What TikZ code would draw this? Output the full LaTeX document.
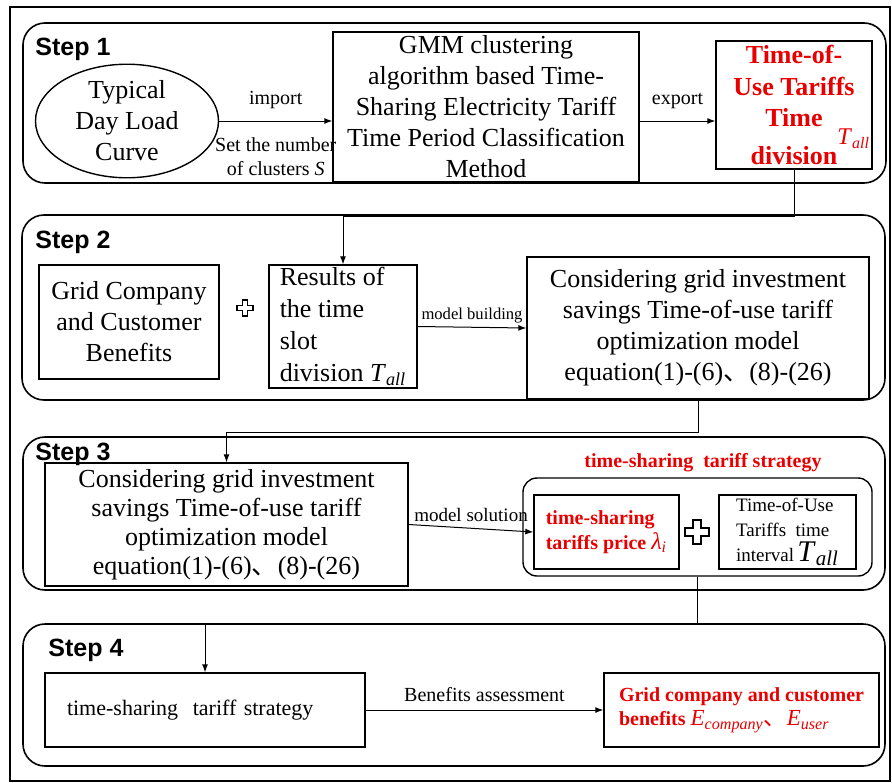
\documentclass[tikz,border=0pt]{standalone}
\usepackage{fontspec}
\setmainfont{Liberation Serif}
\newfontfamily\stepfont{Liberation Sans}
\newfontfamily\cjk{Noto Sans CJK SC}
\usepackage{tikz}
\usetikzlibrary{shapes.geometric,arrows.meta}
\definecolor{tred}{RGB}{232,0,0}
\newcommand{\fs}[2]{\fontsize{#1}{#2}\selectfont}
\newcommand{\isub}[2]{\textit{#1}\textsubscript{\textit{#2}}}
\newcommand{\plusmark}[3]{\draw[line width=0.7pt, shift={#1}] (-#3,-#2) -- (#3,-#2) -- (#3,-#3) -- (#2,-#3) -- (#2,#3) -- (#3,#3) -- (#3,#2) -- (-#3,#2) -- (-#3,#3) -- (-#2,#3) -- (-#2,-#3) -- (-#3,-#3) -- cycle;}
\tikzset{
  box/.style={draw, line width=0.7pt, inner sep=0pt, align=center, font=\fs{13}{15.5}},
  stepframe/.style={draw, line width=0.8pt, rounded corners=11pt, inner sep=0pt},
  steplabel/.style={anchor=base west, inner sep=0pt, font=\stepfont\bfseries\fs{12.5}{15}},
  arr/.style={-{Latex[length=4pt,width=3pt]}, line width=0.5pt},
  lbl/.style={inner sep=1pt, font=\fs{10}{12}}
}

\begin{document}
\begin{tikzpicture}[x=0.5pt, y=-0.5pt]
\useasboundingbox (0,0) rectangle (892,782);
\draw[line width=0.9pt] (10,7) rectangle (890,781);

\node[stepframe, minimum width=431.5pt, minimum height=80pt] (stepA) at (454.5,103) {};
\node[stepframe, minimum width=431.5pt, minimum height=92.5pt] (stepB) at (453.5,307.5) {};
\node[stepframe, minimum width=431pt, minimum height=76.5pt] (stepC) at (454,513.5) {};
\node[stepframe, minimum width=431pt, minimum height=71pt] (stepD) at (454,695) {};
\node[steplabel] (labA) at (35,55) {Step 1};
\node[steplabel] (labB) at (35,248) {Step 2};
\node[steplabel] (labC) at (35,460) {Step 3};
\node[steplabel] (labD) at (48,656) {Step 4};

\node[draw, ellipse, line width=0.7pt, inner sep=0pt, minimum width=91.5pt, minimum height=52.5pt, align=center, font=\fs{13}{15.5}] (load) at (127,121) {\raisebox{-3pt}{Typical}\\\raisebox{-3pt}{Day Load}\\\raisebox{-3pt}{Curve}};
\node[box, minimum width=153pt, minimum height=75pt] (gmm) at (486,107) {GMM clustering\\algorithm based Time-\\Sharing Electricity Tariff\\Time Period Classification\\Method};
\node[box, text=tred, font=\bfseries\fs{13}{15.8}, minimum width=78pt, minimum height=64pt] (tou) at (794,105) {Time-of-\\Use Tariffs\\Time\\division\rlap{\mdseries\raisebox{10pt}{\fs{12}{14}\isub{T}{all}}}};
\draw[arr] (load.east) -- (load.east -| gmm.west) node[midway, above=5pt, lbl] {import} node[midway, below=7pt, lbl, align=center, font=\fs{10}{12}] {Set the number\\of clusters \textit{S}};
\draw[arr] ([yshift=-7pt]gmm.east) -- ([yshift=-7pt]gmm.east -| tou.west) node[midway, above=5pt, lbl] {export};

\node[box, minimum width=90pt, minimum height=57pt] (grid) at (129,322) {Grid Company\\and Customer\\Benefits};
\plusmark{(245,308)}{8}{2.7}
\node[box, align=left, font=\fs{13}{16}, minimum width=74pt, minimum height=61.5pt] (results) at (343,326.5) {Results of\\the time\\slot\\division \isub{T}{all}};
\node[box, minimum width=171pt, minimum height=71pt] (cons2) at (698,328) {Considering grid investment\\savings Time-of-use tariff\\optimization model\\equation(1)-(6){\cjk 、}(8)-(26)};
\draw[arr] (tou.south) -- ++(0,47) -| (results.north);
\draw[arr] (results.east) -- (cons2.west) node[midway, above=1pt, lbl, font=\fs{8.3}{10}] {model building};

\node[box, font=\fs{13}{14.5}, minimum width=181.5pt, minimum height=61.5pt] (cons3) at (226.5,524.5) {Considering grid investment\\savings Time-of-use tariff\\optimization model\\equation(1)-(6){\cjk 、}(8)-(26)};
\node[anchor=base, inner sep=0pt, text=tred, font=\bfseries\fs{10}{12}] (stratlbl) at (703,467) {time-sharing\ \ tariff strategy};
\node[draw, line width=0.7pt, rounded corners=7pt, inner sep=0pt, minimum width=174.5pt, minimum height=49pt] (strat) at (697.5,527) {};
\node[box, align=left, text=tred, font=\bfseries\fs{10}{12.5}, minimum width=72.5pt, minimum height=37pt] (price) at (606.5,532) {time-sharing\\tariffs price {\mdseries\fs{12}{12}\isub{λ}{i}}};
\plusmark{(697,532)}{12}{4}
\node[box, align=left, font=\fs{9.5}{12.5}, minimum width=68.5pt, minimum height=37pt] (tint) at (787.5,532) {Time-of-Use\\Tariffs\ \ time\\interval\,{\fs{15}{15}\isub{T}{all}}};
\draw[arr] (cons2.south) -- ++(0,33) -| (cons3.north);
\draw[arr] (cons3.east) -- (price.west) node[midway, above=2pt, lbl, font=\fs{9.5}{11}] {model solution};

\node[box, align=left, text width=138pt, inner xsep=11pt, font=\fs{11}{13}, minimum height=37pt] (tstrat) at (205,710) {time-sharing\ \ tariff strategy};
\node[box, align=left, text=tred, font=\bfseries\fs{10}{12}, minimum width=137.5pt, minimum height=37pt] (bene) at (741.5,710) {Grid company and customer\\benefits {\mdseries\fs{11.5}{12}\isub{E}{company}{\cjk 、}\isub{E}{user}}};
\draw[arr] (strat.south) -- ++(0,48) -| (tstrat.north);
\draw[arr] (tstrat.east) -- (bene.west) node[midway, above=3pt, lbl] {Benefits assessment};
\end{tikzpicture}
\end{document}
